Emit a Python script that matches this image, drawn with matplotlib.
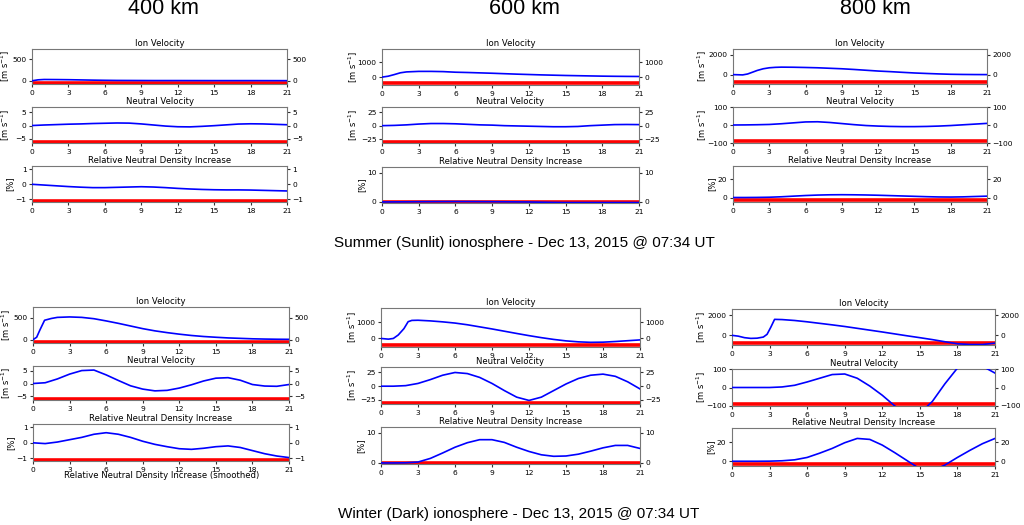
import numpy as np
import matplotlib.pyplot as plt

# Waktu (sumbu x) untuk kecepatan netral dan densitas
t = np.arange(0, 22)

# ---- Musim panas (sunlit) ----
s400_ion_t = [0, 0.5, 1, 2, 3, 4, 5, 6, 7, 8, 9, 10, 12, 15, 18, 21]
s400_ion = [0, 22, 30, 28, 25, 20, 15, 11, 8, 7, 6, 5, 5, 4, 4, 3]
s400_neu = [0, 0.2, 0.35, 0.5, 0.6, 0.75, 0.85, 0.95, 0.9, 0.6, 0.2, -0.2, -0.45, -0.5,
            -0.3, -0.05, 0.25, 0.55, 0.65, 0.6, 0.45, 0.3]
s400_den = [0, -0.05, -0.1, -0.15, -0.19, -0.22, -0.22, -0.2, -0.18, -0.16, -0.18, -0.22,
            -0.27, -0.31, -0.34, -0.36, -0.37, -0.37, -0.38, -0.4, -0.42, -0.44]

s600_ion_t = [0, 0.5, 1, 1.5, 2, 3, 4, 5, 6, 7, 8, 9, 10, 11, 12, 13, 14, 15, 16, 17, 18, 19, 20, 21]
s600_ion = [0, 60, 170, 290, 350, 385, 385, 370, 330, 310, 285, 260, 230, 200, 175, 150, 130,
            110, 95, 80, 65, 55, 48, 43]
s600_neu = [0, 0.5, 1.5, 3, 4, 4, 3.5, 2.5, 1.5, 1, 0, -0.5, -1, -1.5, -2, -2, -1.5, 0, 1, 2, 2.2, 2]
s600_den = [0, 0.03, 0.06, 0.1, 0.12, 0.14, 0.15, 0.14, 0.12, 0.1, 0.07, 0.03, 0, -0.08, -0.15,
            -0.2, -0.2, -0.2, -0.2, -0.2, -0.2, -0.2]

s800_ion_t = [0, 0.8, 1.2, 1.65, 2, 2.5, 3, 3.5, 4, 5, 6, 7, 8, 9, 10, 11, 12, 13, 14, 15, 16,
              17, 18, 19, 20, 21]
s800_ion = [0, -30, 60, 260, 420, 590, 690, 735, 755, 745, 720, 690, 640, 590, 520, 440, 360,
            300, 230, 165, 115, 70, 33, 15, 5, 0]
s800_neu = [0, 0.5, 1.5, 3, 7, 12, 17, 18, 14, 8, 2, -3, -6, -8, -9, -9, -8, -6, -3, 1, 5, 9]
s800_den = [0, 0, 0.1, 0.3, 0.8, 1.5, 2.2, 2.7, 3, 3.1, 3, 2.8, 2.5, 2.1, 1.7, 1.3, 0.9, 0.6,
            0.5, 0.7, 1.1, 1.5]

# ---- Musim dingin (dark) ----
w400_ion_t = [0, 0.3, 0.55, 0.95, 1.5, 2, 3, 4, 5, 6, 7, 8, 9, 10, 11, 12, 13, 14, 15, 16, 17,
              18, 19, 20, 21]
w400_ion = [0, 55, 210, 440, 480, 505, 515, 505, 475, 425, 370, 310, 250, 200, 160, 125, 95,
            72, 55, 40, 30, 20, 14, 10, 8]
w400_neu = [0, 0.3, 1.8, 3.7, 5.1, 5.3, 3.4, 1.2, -0.9, -2.2, -2.9, -2.7, -1.8, -0.5, 1.0, 2.1,
            2.3, 1.3, -0.4, -1.0, -1.1, -0.4]
w400_den = [0, -0.05, 0.05, 0.2, 0.35, 0.55, 0.65, 0.55, 0.35, 0.1, -0.1, -0.25, -0.38, -0.42,
            -0.35, -0.25, -0.2, -0.3, -0.5, -0.7, -0.85, -0.95]

w600_ion_t = [0, 0.6, 1, 1.4, 1.86, 2.2, 2.5, 3, 4, 5, 6, 7, 8, 9, 10, 11, 12, 13, 14, 15, 16,
              17, 18, 19, 20, 21]
w600_ion = [0, -43, 0, 217, 610, 1040, 1120, 1130, 1090, 1030, 955, 850, 720, 590, 450, 310,
            175, 50, -60, -150, -210, -240, -230, -190, -140, -90]
w600_neu = [0, 0, 1, 5, 12, 20, 25, 23, 16, 5, -8, -20, -26, -20, -8, 4, 14, 20, 22, 18, 8, -5]
w600_den = [0, 0, 0.05, 0.3, 1.5, 3.3, 5.2, 6.7, 7.7, 7.7, 6.8, 5.2, 3.8, 2.7, 2.2, 2.3, 2.9,
            3.9, 5, 5.8, 5.8, 4.8]

w800_ion_t = [0, 0.5, 1, 1.5, 2, 2.5, 2.8, 3.1, 3.4, 4, 5, 6, 7, 8, 9, 10, 11, 12, 13, 14, 15,
              16, 17, 18, 19, 20, 21]
w800_ion = [0, -80, -230, -300, -280, -170, 100, 800, 1570, 1550, 1460, 1330, 1180, 1030, 870,
            690, 510, 330, 140, -50, -230, -420, -630, -830, -900, -900, -770]
w800_neu = [0, 0, 0, 0, 3, 12, 30, 50, 70, 73, 50, 8, -42, -100, -140, -140, -75, 20, 105, 130,
            115, 78]
w800_den = [0, 0, 0, 0.1, 0.5, 1.5, 4, 8.5, 13.5, 19.5, 24, 23, 17, 9, 0.5, -8, -10, -4, 4,
            11.5, 18.5, 24]

# Batas sumbu, tick dan posisi garis merah per ketinggian
ion_ylim = {400: (-75, 740), 600: (-530, 1890), 800: (-950, 2590)}
neu_ylim = {400: (-6.5, 6.9), 600: (-32.5, 35), 800: (-100, 100)}
den_ylim = {400: (-1.17, 1.21), 600: (-0.35, 11.9), 800: (-5, 35)}
ion_ticks = {400: [0, 500], 600: [0, 1000], 800: [0, 2000]}
neu_ticks = {400: [-5, 0, 5], 600: [-25, 0, 25], 800: [-100, 0, 100]}
den_ticks = {400: [-1, 0, 1], 600: [0, 10], 800: [0, 20]}
ion_red = {400: -45, 600: -400, 800: -780}
neu_red = {400: -6.1, 600: -31, 800: -90}
den_red = {400: -1.1, 600: 0.05, 800: -2.8}

# jarak label sumbu y dari tepi kiri sumbu (piksel)
ms_off = {400: 27, 600: 29, 800: 31}
pct_off = {400: 22, 600: 20, 800: 21}

W, H = 1024, 525
fig = plt.figure(figsize=(W / 100, H / 100), dpi=100)


def box(l, r, t_, b):
    return [l / W, 1 - b / H, (r - l) / W, (b - t_) / H]


def panel(rect, xs, ys, ylim, ticks, red, title, ylabel, off):
    ax = fig.add_axes(box(*rect))
    ax.axhline(red, color='red', lw=2.6, zorder=2)
    ax.plot(xs, ys, color='blue', lw=1.2, zorder=3)
    ax.set_xlim(0, 21)
    ax.set_ylim(*ylim)
    ax.set_xticks(range(0, 22, 3))
    ax.set_yticks(ticks)
    ax.tick_params(labelsize=5.4, length=2.5, pad=1.5, right=True, labelright=True,
                   color='#333333')
    for sp in ax.spines.values():
        sp.set_color('#777777')
    ax.set_title(title, fontsize=6.1, pad=2.5)
    ax.set_ylabel(ylabel, fontsize=6.0, va='center')
    ax.yaxis.set_label_coords(-off / (rect[1] - rect[0]), 0.5)
    return ax


ms = r'[m s$^{-1}$]'

# Posisi kolom (kiri, kanan) dan baris (atas, bawah) dalam piksel
top_cols = {400: (32, 287), 600: (382, 639), 800: (733, 987)}
top_rows = {400: [(49, 84), (107, 143), (166, 202)],
            600: [(49, 85), (107, 143), (167, 203)],
            800: [(49, 84), (107, 143), (166, 202)]}
bot_cols = {400: (33, 289), 600: (381, 640), 800: (732, 995)}
bot_rows = {400: [(307, 343), (366, 400), (424, 461)],
            600: [(308, 347), (367, 404), (427, 464)],
            800: [(309, 345), (369, 406), (428, 466)]}

summer = {400: (s400_ion_t, s400_ion, s400_neu, s400_den),
          600: (s600_ion_t, s600_ion, s600_neu, s600_den),
          800: (s800_ion_t, s800_ion, s800_neu, s800_den)}
winter = {400: (w400_ion_t, w400_ion, w400_neu, w400_den),
          600: (w600_ion_t, w600_ion, w600_neu, w600_den),
          800: (w800_ion_t, w800_ion, w800_neu, w800_den)}

for data, cols, rows in [(summer, top_cols, top_rows), (winter, bot_cols, bot_rows)]:
    for km in (400, 600, 800):
        l, r = cols[km]
        it, ion, neu, den = data[km]
        (a1, b1), (a2, b2), (a3, b3) = rows[km]
        panel((l, r, a1, b1), it, ion, ion_ylim[km], ion_ticks[km], ion_red[km],
              'Ion Velocity', ms, ms_off[km])
        panel((l, r, a2, b2), t, neu, neu_ylim[km], neu_ticks[km], neu_red[km],
              'Neutral Velocity', ms, ms_off[km])
        panel((l, r, a3, b3), t, den, den_ylim[km], den_ticks[km], den_red[km],
              'Relative Neutral Density Increase', '[%]', pct_off[km])

# Judul kolom dan keterangan
for xc, txt in [(163, '400 km'), (524, '600 km'), (875, '800 km')]:
    fig.text(xc / W, 1 - 9 / H, txt, ha='center', va='center', fontsize=15.5,
             family='Liberation Sans')

fig.text(524 / W, 1 - 243 / H, 'Summer (Sunlit) ionosphere - Dec 13, 2015 @ 07:34 UT',
         ha='center', va='center', fontsize=11, family='Liberation Sans')
fig.text(519 / W, 1 - 514 / H, 'Winter (Dark) ionosphere - Dec 13, 2015 @ 07:34 UT',
         ha='center', va='center', fontsize=11, family='Liberation Sans')
fig.text(162 / W, 1 - 476 / H, 'Relative Neutral Density Increase (smoothed)',
         ha='center', va='center', fontsize=6.1)

fig.savefig('out.png', dpi=100)
